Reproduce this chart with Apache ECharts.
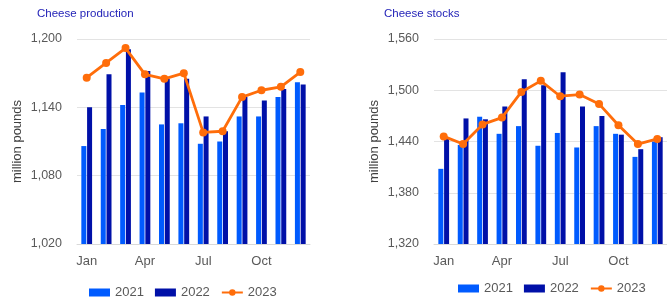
<!DOCTYPE html>
<html>
<head>
<meta charset="utf-8">
<script src="https://cdn.jsdelivr.net/npm/echarts@6/dist/echarts.min.js"></script>
<style>
  html, body { margin: 0; padding: 0; background: #fff; }
  #chart { width: 667px; height: 301px; }
</style>
</head>
<body>
<div id="chart"></div>
<script>
var months = ['Jan', 'Feb', 'Mar', 'Apr', 'May', 'Jun', 'Jul', 'Aug', 'Sep', 'Oct', 'Nov', 'Dec']
var yearNames = ['2021', '2022', '2023']

// cheese production, million pounds
var prod2021 = [1106, 1121, 1142, 1153, 1125, 1126, 1108, 1110, 1132, 1132, 1149, 1162]
var prod2022 = [1140, 1169, 1191, 1172, 1165, 1165, 1132, 1119, 1149, 1146, 1156, 1160]
var prod2023 = [1166, 1179, 1192, 1169, 1165, 1170, 1118, 1119, 1149, 1155, 1158, 1171]

// cheese stocks, million pounds
var stocks2021 = [1408, 1436, 1469, 1449, 1458, 1435, 1450, 1433, 1458, 1449, 1422, 1440]
var stocks2022 = [1443, 1467, 1466, 1481, 1513, 1506, 1521, 1481, 1470, 1448, 1431, 1445]
var stocks2023 = [1446, 1437, 1460, 1468, 1498, 1511, 1493, 1495, 1484, 1459, 1437, 1443]

var c2021 = '#005bff'
var c2022 = '#0010a8'
var c2023 = '#ff6d0a'
var font = 'Liberation Sans'
var grey = '#595959'

function xAx(gi) {
  return {
    type: 'category',
    gridIndex: gi,
    data: months,
    axisLine: { lineStyle: { color: '#d9d9d9' } },
    axisTick: { show: false },
    axisLabel: { interval: 2, color: grey, fontSize: 13, fontFamily: font, margin: 11 }
  }
}

function yAx(gi, min, max) {
  return {
    type: 'value',
    gridIndex: gi,
    min: min,
    max: max,
    interval: 60,
    name: 'million pounds',
    nameLocation: 'middle',
    nameGap: 53,
    nameTextStyle: { color: '#404040', fontSize: 13, fontFamily: font },
    axisLabel: {
      color: grey, fontSize: 12.5, fontFamily: font, margin: 15,
      formatter: function (v) { return v.toLocaleString('en-US') }
    },
    splitLine: { lineStyle: { color: '#e3e3e3' } }
  }
}

function bars(name, data, color, gi) {
  return {
    name: name, type: 'bar', data: data,
    xAxisIndex: gi, yAxisIndex: gi,
    barWidth: 5, barGap: '15%',
    itemStyle: { color: color }
  }
}

function line(name, data, gi) {
  return {
    name: name, type: 'line', data: data,
    xAxisIndex: gi, yAxisIndex: gi,
    symbol: 'circle', symbolSize: 8,
    lineStyle: { color: c2023, width: 2.8 },
    itemStyle: { color: c2023 }
  }
}

function legend(left, top) {
  return {
    left: left, top: top, padding: 0,
    itemWidth: 21, itemHeight: 8, itemGap: 11,
    textStyle: { color: grey, fontSize: 13, fontFamily: font },
    data: [
      { name: '2021', icon: 'rect' },
      { name: '2022', icon: 'rect' },
      { name: '2023' }
    ]
  }
}

var chart = echarts.init(document.getElementById('chart'))
chart.setOption({
  animation: false,
  title: [
    { text: 'Cheese production', left: 37, top: 8, padding: 0,
      textStyle: { color: '#2424b8', fontSize: 11.5, fontWeight: 'normal', fontFamily: font } },
    { text: 'Cheese stocks', left: 384, top: 8, padding: 0,
      textStyle: { color: '#2424b8', fontSize: 11.5, fontWeight: 'normal', fontFamily: font } }
  ],
  legend: [legend(89, 286), legend(458, 282)],
  grid: [
    { left: 77, right: 357, top: 39, bottom: 57 },
    { left: 434, right: 0, top: 39, bottom: 57 }
  ],
  xAxis: [xAx(0), xAx(1)],
  yAxis: [yAx(0, 1020, 1200), yAx(1, 1320, 1560)],
  series: [
    bars(yearNames[0], prod2021, c2021, 0),
    bars(yearNames[1], prod2022, c2022, 0),
    line(yearNames[2], prod2023, 0),
    bars(yearNames[0], stocks2021, c2021, 1),
    bars(yearNames[1], stocks2022, c2022, 1),
    line(yearNames[2], stocks2023, 1)
  ]
})
window.addEventListener('resize', function () { chart.resize() })
</script>
</body>
</html>
